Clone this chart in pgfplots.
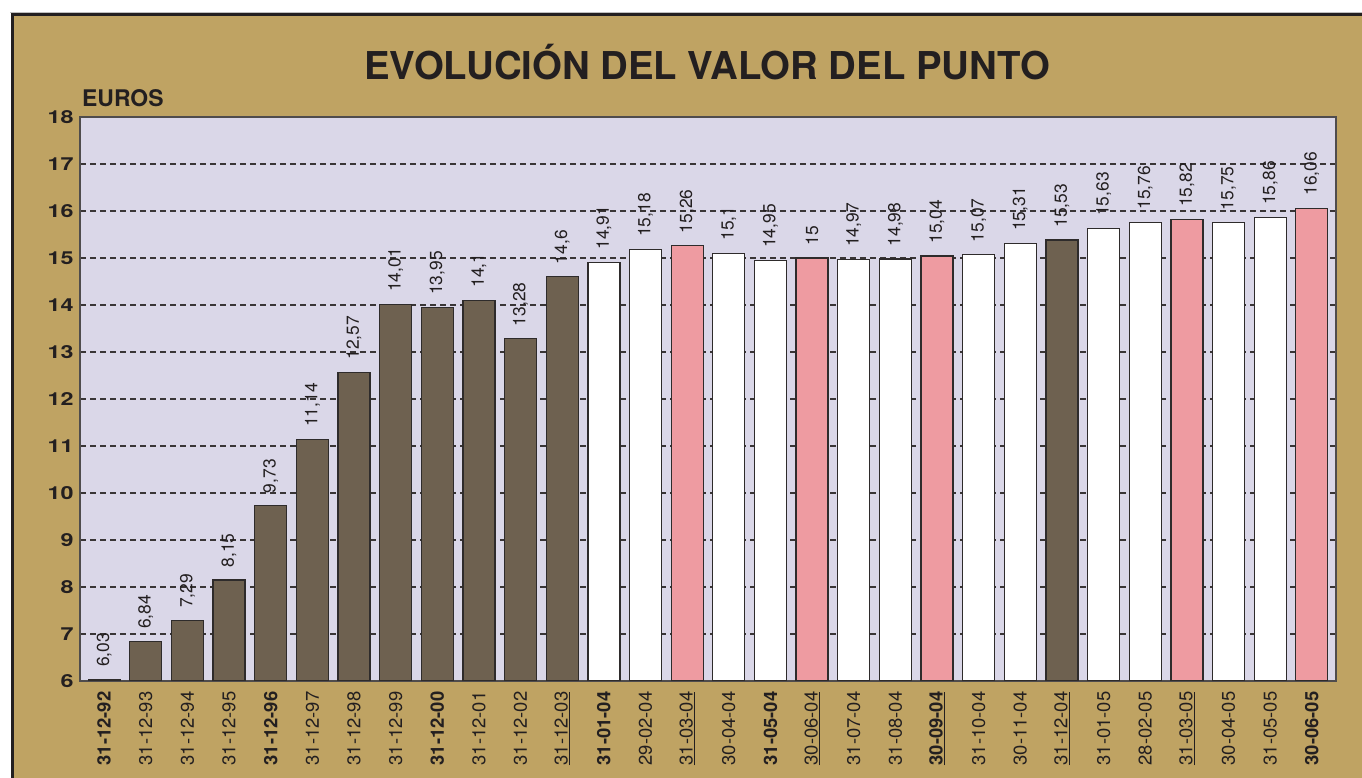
\documentclass[border=0pt]{standalone}
\usepackage{pgfplots}
\pgfplotsset{compat=1.18}
\usepackage{pgfplotstable}
\usepackage{fontspec}
\setmainfont{TeX Gyre Heros}
\newfontfamily\extfont[FakeStretch=1.3]{TeX Gyre Heros}
\definecolor{tanbg}{HTML}{BFA363}
\definecolor{lav}{HTML}{DAD7E8}
\definecolor{darkbar}{HTML}{6E6150}
\definecolor{pinkbar}{HTML}{EE9BA1}
\definecolor{ink}{HTML}{231F20}
\definecolor{edge}{HTML}{2E2B2B}

\pgfplotstableread{
x y label
0 6.03 6,03
1 6.84 6,84
2 7.29 7,29
3 8.15 8,15
4 9.73 9,73
5 11.14 11,14
6 12.57 12,57
7 14.01 14,01
8 13.95 13,95
9 14.1 14,1
10 13.28 13,28
11 14.6 14,6
23 15.38 15,53
}\darkdata
\pgfplotstableread{
x y label
12 14.91 14,91
13 15.18 15,18
15 15.1 15,1
16 14.95 14,95
18 14.97 14,97
19 14.98 14,98
21 15.07 15,07
22 15.31 15,31
24 15.63 15,63
25 15.76 15,76
27 15.75 15,75
28 15.86 15,86
}\whitedata
\pgfplotstableread{
x y label
14 15.26 15,26
17 15.0 15
20 15.04 15,04
26 15.82 15,82
29 16.06 16,06
}\pinkdata

\begin{document}
\begin{tikzpicture}
\path[use as bounding box] (0bp,0bp) rectangle (1362bp,778bp);
\fill[white] (0bp,0bp) rectangle (1362bp,778bp);
\fill[tanbg] (11bp,0bp) rectangle (1362bp,764bp);
\draw[line width=0.6bp, black!25] (10bp,765.5bp) -- (1362bp,765.5bp);
\draw[line width=3bp, ink] (12.5bp,0bp) -- (12.5bp,763.5bp) -- (1362bp,763.5bp);
\node[font=\fontsize{38.5}{38.5}\selectfont\bfseries, text=ink, anchor=base, inner sep=0] at (707bp,698bp) {EVOLUCIÓN DEL VALOR DEL PUNTO};
\node[font=\fontsize{23}{23}\selectfont\bfseries, text=ink, anchor=base west, inner sep=0] at (82bp,671bp) {EUROS};
\begin{axis}[
  at={(80bp,97bp)}, anchor=south west,
  scale only axis, width=1256bp, height=564bp,
  xmin=-0.58, xmax=29.58, ymin=6, ymax=18,
  ytick={6,7,...,18},
  xtick={0,...,29},
  xticklabels={{\bfseries 31-12-92},31-12-93,31-12-94,31-12-95,{\bfseries 31-12-96},31-12-97,31-12-98,31-12-99,{\bfseries 31-12-00},31-12-01,31-12-02,\underline{31-12-03},{\bfseries 31-01-04},29-02-04,\underline{31-03-04},30-04-04,{\bfseries 31-05-04},\underline{30-06-04},31-07-04,31-08-04,{\bfseries\underline{30-09-04}},31-10-04,30-11-04,\underline{31-12-04},31-01-05,28-02-05,\underline{31-03-05},30-04-05,31-05-05,{\bfseries 30-06-05}},
  major tick length=0pt,
  /pgf/number format/assume math mode=true,
  axis background/.style={fill=lav},
  axis line style={draw=ink!80, line width=1.4bp},
  ymajorgrids, grid style={dash pattern=on 6bp off 4bp, ink!90, line width=1.1bp},
  xticklabel style={rotate=90, anchor=east, font=\fontsize{18.5}{18.5}\selectfont, text=ink},
  xticklabel shift=7bp,
  yticklabel style={font=\extfont\bfseries\fontsize{18}{18}\selectfont, text=ink},
  yticklabel shift=3bp,
  ybar, bar width=32bp, bar shift=0pt,
  point meta=explicit symbolic,
  nodes near coords,
  every node near coord/.append style={rotate=90, anchor=west, font=\fontsize{17.5}{17.5}\selectfont, text=ink, inner xsep=12bp, inner ysep=0pt},
]
\addplot[fill=darkbar, draw=edge, line width=1.3bp] table[x=x, y=y, meta=label] {\darkdata};
\addplot[fill=white, draw=edge, line width=1.3bp] table[x=x, y=y, meta=label] {\whitedata};
\addplot[fill=pinkbar, draw=edge, line width=1.3bp] table[x=x, y=y, meta=label] {\pinkdata};
\end{axis}
\end{tikzpicture}
\end{document}
